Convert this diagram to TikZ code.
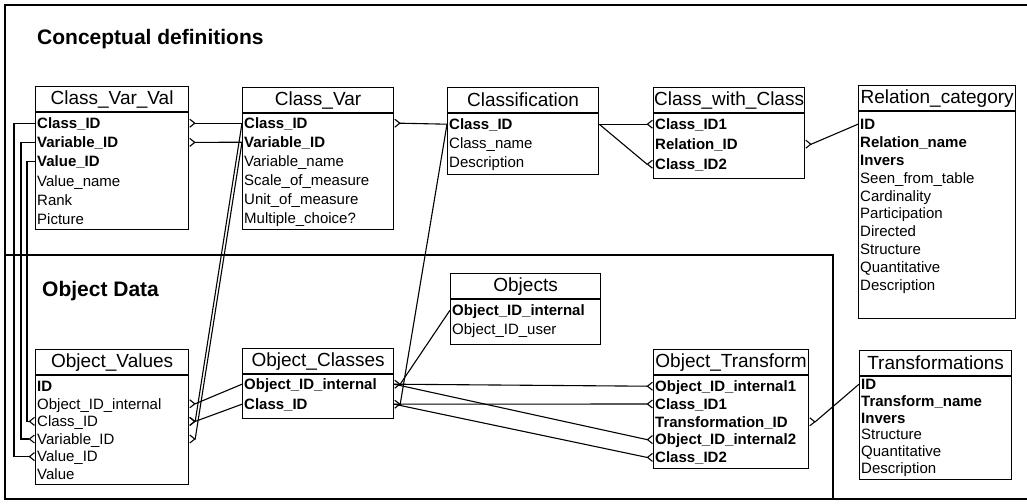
\documentclass[tikz,border=0pt]{standalone}
\usepackage{fontspec}
\setmainfont{Liberation Sans}
\usetikzlibrary{arrows.meta,positioning,calc}
\tikzset{
  frame/.style = {draw=black, line width=2.5pt},
  title/.style = {anchor=base west, inner sep=0pt, font=\fontsize{21}{21}\selectfont\bfseries},
  thead/.style = {draw=black, line width=1.2pt, anchor=north west, minimum height=25,
                  inner sep=0pt, font=\fontsize{19}{19}\selectfont},
  tbody/.style = {draw=black, line width=1.2pt, inner sep=0pt},
  fld/.style   = {anchor=west, inner sep=0pt, text height=10.5pt, text depth=0pt,
                  font=\fontsize{15}{15}\selectfont},
  rel/.style   = {draw=black, line width=1.1pt},
}

\begin{document}
\begin{tikzpicture}[x=1pt, y=-1pt,
    >={Straight Barb[reversed, length=5pt, width=8pt]}]
  \useasboundingbox (0,0) rectangle (1027,503);
  % frames
  \draw[frame] (1027,5) -- (5,5) -- (5,499) -- (1027,499);
  \draw[frame] (5,255) rectangle (833,499);
  \node[title] (tconc) at (37,45) {Conceptual definitions};
  \node[title] (tobj) at (42,296) {Object Data};

  % Class_Var_Val
  \node[thead, minimum width=153] (cvvh) at (35,86) {Class\_Var\_Val};
  \node[tbody, minimum width=153, minimum height=117, below=0pt of cvvh.south west, anchor=north west] (cvv) {};
  \foreach \f [count=\i] in {{\bfseries Class\_ID},{\bfseries Variable\_ID},{\bfseries Value\_ID},Value\_name,Rank,Picture}
    \node[fld] (cvv-\i) at ($(cvv.north west)+(2,11+19.2*\i-19.2)$) {\f};
  % Class_Var
  \node[thead, minimum width=151] (cvh) at (242,87) {Class\_Var};
  \node[tbody, minimum width=151, minimum height=116, below=0pt of cvh.south west, anchor=north west] (cv) {};
  \foreach \f [count=\i] in {{\bfseries Class\_ID},{\bfseries Variable\_ID},Variable\_name,Scale\_of\_measure,Unit\_of\_measure,Multiple\_choice?}
    \node[fld] (cv-\i) at ($(cv.north west)+(2,10+19*\i-19)$) {\f};
  % Classification
  \node[thead, minimum width=151] (clsh) at (447,87) {Classification};
  \node[tbody, minimum width=151, minimum height=61, below=0pt of clsh.south west, anchor=north west] (cls) {};
  \foreach \f [count=\i] in {{\bfseries Class\_ID},Class\_name,Description}
    \node[fld] (cls-\i) at ($(cls.north west)+(2,11+19*\i-19)$) {\f};
  % Class_with_Class
  \node[thead, minimum width=151] (cwch) at (653,87) {Class\_with\_Class};
  \node[tbody, minimum width=151, minimum height=65, below=0pt of cwch.south west, anchor=north west] (cwc) {};
  \foreach \f [count=\i] in {{\bfseries Class\_ID1},{\bfseries Relation\_ID},{\bfseries Class\_ID2}}
    \node[fld] (cwc-\i) at ($(cwc.north west)+(2,11+20*\i-20)$) {\f};
  % Relation_category
  \node[thead, minimum width=157] (rch) at (858,85) {Relation\_category};
  \node[tbody, minimum width=157, minimum height=207, below=0pt of rch.south west, anchor=north west] (rc) {};
  \foreach \f [count=\i] in {{\bfseries ID},{\bfseries Relation\_name},{\bfseries Invers},Seen\_from\_table,Cardinality,Participation,Directed,Structure,Quantitative,Description}
    \node[fld] (rc-\i) at ($(rc.north west)+(2,13+17.9*\i-17.9)$) {\f};

  % Objects
  \node[thead, minimum width=150] (objh) at (450,273) {Objects};
  \node[tbody, minimum width=150, minimum height=45, below=0pt of objh.south west, anchor=north west] (obj) {};
  \foreach \f [count=\i] in {{\bfseries Object\_ID\_internal},Object\_ID\_user}
    \node[fld] (obj-\i) at ($(obj.north west)+(2,11+19*\i-19)$) {\f};
  % Object_Values
  \node[thead, minimum width=153] (ovh) at (35,349) {Object\_Values};
  \node[tbody, minimum width=153, minimum height=109, below=0pt of ovh.south west, anchor=north west] (ov) {};
  \foreach \f [count=\i] in {{\bfseries ID},Object\_ID\_internal,Class\_ID,Variable\_ID,Value\_ID,Value}
    \node[fld] (ov-\i) at ($(ov.north west)+(2,11+17.6*\i-17.6)$) {\f};
  % Object_Classes
  \node[thead, minimum width=151] (och) at (242,348) {Object\_Classes};
  \node[tbody, minimum width=151, minimum height=44, below=0pt of och.south west, anchor=north west] (oc) {};
  \foreach \f [count=\i] in {{\bfseries Object\_ID\_internal},{\bfseries Class\_ID}}
    \node[fld] (oc-\i) at ($(oc.north west)+(2,10+20*\i-20)$) {\f};
  % Object_Transform
  \node[thead, minimum width=155] (oth) at (653,349) {Object\_Transform};
  \node[tbody, minimum width=155, minimum height=93, below=0pt of oth.south west, anchor=north west] (ot) {};
  \foreach \f [count=\i] in {{\bfseries Object\_ID\_internal1},{\bfseries Class\_ID1},{\bfseries Transformation\_ID},{\bfseries Object\_ID\_internal2},{\bfseries Class\_ID2}}
    \node[fld] (ot-\i) at ($(ot.north west)+(2,11+17.8*\i-17.8)$) {\f};
  % Transformations
  \node[thead, minimum width=152] (trh) at (859,350) {Transformations};
  \node[tbody, minimum width=152, minimum height=103, below=0pt of trh.south west, anchor=north west] (tr) {};
  \foreach \f [count=\i] in {{\bfseries ID},{\bfseries Transform\_name},{\bfseries Invers},Structure,Quantitative,Description}
    \node[fld] (tr-\i) at ($(tr.north west)+(2,8+16.8*\i-16.8)$) {\f};

  % relations, conceptual part
  \draw[rel, <-] (cvv-1 -| cvv.east) -- ++(6,0) -- (cv-1 -| cv.west);
  \draw[rel, <-] (cvv-2 -| cvv.east) -- ++(6,0) -- (cv-2 -| cv.west);
  \draw[rel, <-] (cv-1 -| cv.east) -- ++(6,0) -- (cls-1 -| cls.west);
  \draw[rel, ->] (cls-1 -| cls.east) -- ($(cwc-1 -| cwc.west)+(-6,0)$) -- (cwc-1 -| cwc.west);
  \draw[rel, ->] (cls-1 -| cls.east) -- ($(cwc-3 -| cwc.west)+(-6,0)$) -- (cwc-3 -| cwc.west);
  \draw[rel, <-] (cwc-2 -| cwc.east) -- ++(6,0) -- (rc-1 -| rc.west);

  % relations, object part
  \coordinate (busa) at (14,0);
  \coordinate (busb) at (21,0);
  \coordinate (busc) at (27,0);
  \draw[rel, <-] (ov-5 -| ov.west) -- (ov-5 -| busa) -- (cvv-1 -| busa) -- (cvv-1 -| cvv.west);
  \draw[rel, <-] (ov-4 -| ov.west) -- (ov-4 -| busb) -- (cvv-2 -| busb) -- (cvv-2 -| cvv.west);
  \draw[rel, <-] (ov-3 -| ov.west) -- (ov-3 -| busc) -- (cvv-3 -| busc) -- (cvv-3 -| cvv.west);
  \draw[rel, <-] (ov-2 -| ov.east) -- ++(6,0) -- (oc-1 -| oc.west);
  \draw[rel, <-] (ov-3 -| ov.east) -- ++(6,0) -- (oc-2 -| oc.west);
  \draw[rel, <-] (ov-3 -| ov.east) -- ++(6,0) -- (cv-1 -| cv.west);
  \draw[rel, <-] (ov-4 -| ov.east) -- ++(6,0) -- (cv-2 -| cv.west);
  \draw[rel, <-] (oc-1 -| oc.east) -- ++(6,0) -- (obj-1 -| obj.west);
  \draw[rel, <-] (oc-2 -| oc.east) -- ++(6,0) -- (cls-1 -| cls.west);
  \draw[rel, ->] (oc-1 -| oc.east) -- ($(ot-1 -| ot.west)+(-6,0)$) -- (ot-1 -| ot.west);
  \draw[rel, ->] (oc-2 -| oc.east) -- ($(ot-2 -| ot.west)+(-6,0)$) -- (ot-2 -| ot.west);
  \draw[rel, ->] (oc-1 -| oc.east) -- ($(ot-4 -| ot.west)+(-6,0)$) -- (ot-4 -| ot.west);
  \draw[rel, ->] (oc-2 -| oc.east) -- ($(ot-5 -| ot.west)+(-6,0)$) -- (ot-5 -| ot.west);
  \draw[rel, <-] (ot-3 -| ot.east) -- ++(6,0) -- (tr-1 -| tr.west);
\end{tikzpicture}
\end{document}
